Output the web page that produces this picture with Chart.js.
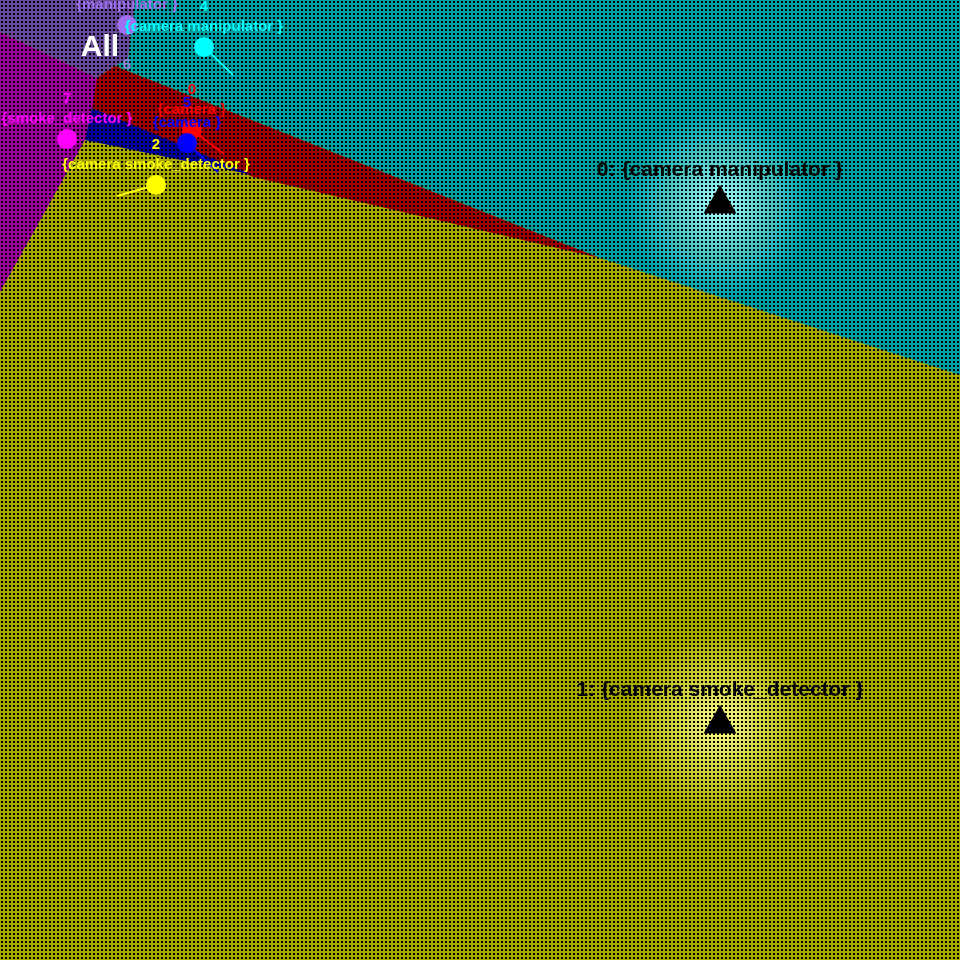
<!DOCTYPE html>
<html lang="en">
<head>
  <meta charset="UTF-8" />
  <title>Device group map</title>
  <script src="https://cdn.jsdelivr.net/npm/chart.js"></script>
  <style>
    html, body { margin: 0; padding: 0; background: #000; }
    .chart-container { width: 960px; height: 960px; }
  </style>
</head>
<body>
  <div class="chart-container"><canvas id="mapChart"></canvas></div>

  <script>
    // device groups (circles)
    const groupIds = ['4', '6', '0', '5', '7', '2'];
    const groupNames = ['{camera manipulator }', '{manipulator }', '{camera }', '{camera }', '{smoke_detector }', '{camera smoke_detector }'];
    const groupX = [204, 127, 192, 187, 67, 156];
    const groupY = [47, 25, 130, 143, 139, 185];
    const tailX = [233, null, 224, 218, null, 117];
    const tailY = [75, null, 154, 172, null, 196];

    // cluster centres (triangles)
    const clusterNames = ['0: {camera manipulator }', '1: {camera smoke_detector }'];
    const clusterX = [720, 720];
    const clusterY = [204, 724];

    // region outlines
    const oliveRegion = [[0, 0], [960, 0], [960, 960], [0, 960]];
    const tealRegion = [[135, 0], [960, 0], [960, 375], [600, 258], [115, 66], [128, 58]];
    const magentaRegion = [[0, 32], [97, 78], [97, 108], [92, 108], [85, 140], [0, 292]];
    const purpleRegion = [[0, 0], [135, 0], [128, 58], [115, 66], [97, 78], [0, 32]];
    const redRegion = [[97, 78], [115, 66], [600, 258], [253, 177], [92, 108]];
    const blueRegion = [[92, 108], [253, 175], [85, 140]];

    const groupColors = ['#00ffff', '#a070f0', '#ff0000', '#0000ff', '#ff00ff', '#ffff00'];
    const numberColors = ['#00ffff', '#9a7fd8', '#ff0000', '#0000ff', '#ff00ff', '#ffff00'];
    const glowColors = [[170, 255, 255], [255, 255, 140]];

    function dither(color) {
      const c = document.createElement('canvas');
      c.width = 4; c.height = 4;
      const g = c.getContext('2d');
      if (color) { g.fillStyle = color; g.fillRect(0, 0, 4, 4); }
      g.fillStyle = '#000';
      g.fillRect(1, 1, 2, 2);
      return g.createPattern(c, 'repeat');
    }

    function region(points, color, order) {
      return {
        data: points.map(p => ({ x: p[0], y: p[1] })),
        showLine: true,
        fill: 'shape',
        backgroundColor: color,
        borderColor: 'rgba(0,0,0,0)',
        borderWidth: 1,
        pointRadius: 0,
        tension: 0,
        order: order
      };
    }

    const datasets = [
      region(oliveRegion, '#a8a800', 20),
      region(tealRegion, '#00a0a0', 19),
      region(magentaRegion, '#a000a0', 18),
      region(purpleRegion, '#684a9c', 17),
      region(redRegion, '#a00000', 16),
      region(blueRegion, '#0000a0', 15),
      {
        data: clusterX.map((x, i) => ({ x: x, y: clusterY[i] })),
        pointRadius: 95,
        borderWidth: 0,
        backgroundColor: ctx => {
          const chart = ctx.chart;
          if (!chart.chartArea || ctx.type !== 'data') return 'rgba(0,0,0,0)';
          const px = chart.scales.x.getPixelForValue(ctx.raw.x);
          const py = chart.scales.y.getPixelForValue(ctx.raw.y);
          const c = glowColors[ctx.dataIndex];
          const g = chart.ctx.createRadialGradient(px, py, 0, px, py, 95);
          g.addColorStop(0, `rgba(${c[0]},${c[1]},${c[2]},1)`);
          g.addColorStop(0.35, `rgba(${c[0]},${c[1]},${c[2]},0.6)`);
          g.addColorStop(1, `rgba(${c[0]},${c[1]},${c[2]},0)`);
          return g;
        },
        order: 14
      },
      region(oliveRegion, dither(null), 13)
    ];

    groupX.forEach((x, i) => {
      if (tailX[i] === null) return;
      datasets.push({
        data: [{ x: x, y: groupY[i] }, { x: tailX[i], y: tailY[i] }],
        showLine: true,
        borderColor: groupColors[i],
        borderWidth: 2,
        pointRadius: 0,
        order: 6
      });
    });

    datasets.push({
      data: groupX.map((x, i) => ({ x: x, y: groupY[i] })),
      backgroundColor: groupColors,
      borderWidth: 0,
      pointRadius: 10,
      order: 4
    });

    datasets.push({
      data: clusterX.map((x, i) => ({ x: x, y: clusterY[i] })),
      pointStyle: 'triangle',
      backgroundColor: '#000',
      borderColor: '#000',
      borderWidth: 0,
      pointRadius: 19,
      order: 3
    });

    const labelPlugin = {
      id: 'labels',
      afterDatasetsDraw(chart) {
        const { ctx, scales: { x, y } } = chart;
        ctx.save();
        ctx.textAlign = 'center';
        ctx.textBaseline = 'middle';

        ctx.font = 'bold 15px "Liberation Sans", Arial, sans-serif';
        groupX.forEach((gx, i) => {
          const px = x.getPixelForValue(gx);
          const py = y.getPixelForValue(groupY[i]);
          ctx.fillStyle = groupColors[i];
          ctx.fillText(groupNames[i], px, py - 20);
          ctx.fillStyle = numberColors[i];
          const ny = py - 40 < 0 ? py + 40 : py - 40;
          ctx.fillText(groupIds[i], px, ny);
        });

        ctx.font = 'bold 21px "Liberation Sans", Arial, sans-serif';
        ctx.fillStyle = '#000';
        clusterX.forEach((cx, i) => {
          ctx.fillText(clusterNames[i], x.getPixelForValue(cx), y.getPixelForValue(clusterY[i]) - 34);
        });

        ctx.font = 'bold 30px "Liberation Sans", Arial, sans-serif';
        ctx.fillStyle = '#fff';
        ctx.fillText('All', x.getPixelForValue(100), y.getPixelForValue(48));
        ctx.restore();
      }
    };

    new Chart(document.getElementById('mapChart'), {
      type: 'scatter',
      data: { datasets: datasets },
      options: {
        responsive: true,
        maintainAspectRatio: false,
        animation: false,
        events: [],
        layout: { padding: 0, autoPadding: false },
        plugins: { legend: { display: false }, tooltip: { enabled: false } },
        scales: {
          x: { type: 'linear', min: 0, max: 960, display: false },
          y: { type: 'linear', min: 0, max: 960, reverse: true, display: false }
        }
      },
      plugins: [labelPlugin]
    });
  </script>
</body>
</html>
